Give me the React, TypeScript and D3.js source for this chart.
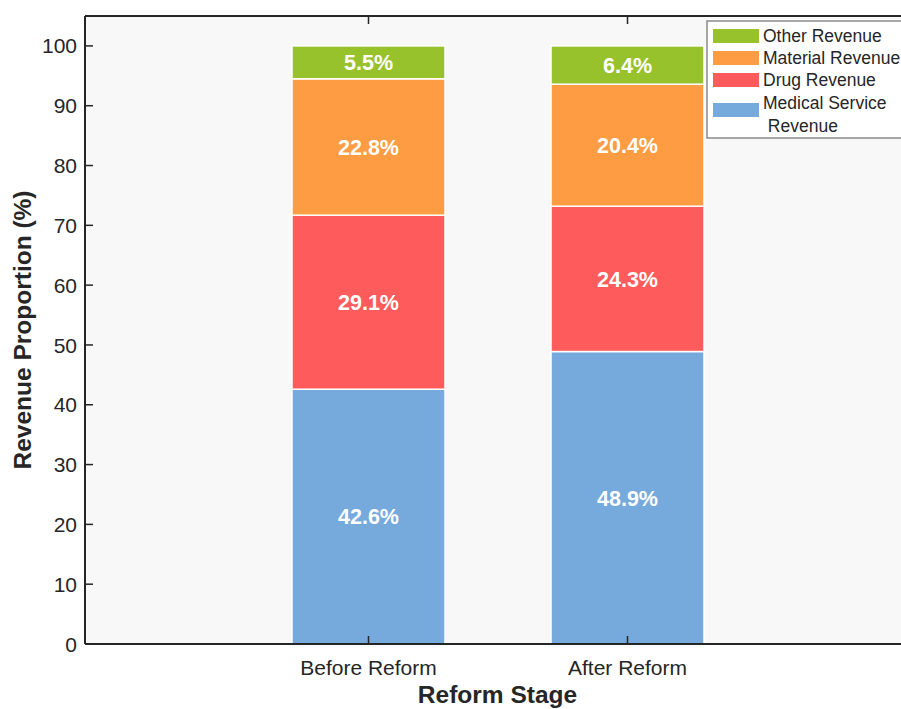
import React from "react";
import * as d3 from "d3";

const stages = ["Before Reform", "After Reform"];
const seriesNames = ["Medical Service Revenue", "Drug Revenue", "Material Revenue", "Other Revenue"];
const medicalService = [42.6, 48.9];
const drug = [29.1, 24.3];
const material = [22.8, 20.4];
const other = [5.5, 6.4];
const colors = ["#76aadd", "#fe5c5c", "#fd9c42", "#98c22c"];
const yTicks = [0, 10, 20, 30, 40, 50, 60, 70, 80, 90, 100];
const legendLabels = [["Other Revenue"], ["Material Revenue"], ["Drug Revenue"], ["Medical Service", " Revenue"]];

export default function App() {
  const W = 901, H = 709;
  const left = 85, right = 910, top = 16, bottom = 644;
  const catX = d3.scaleLinear().domain([1, 2]).range([368.5, 627.5]);
  const y = d3.scaleLinear().domain([0, 105]).range([bottom, top]);
  const bw = 153;
  const rows = stages.map((s, i) => ({
    stage: s,
    "Medical Service Revenue": medicalService[i],
    "Drug Revenue": drug[i],
    "Material Revenue": material[i],
    "Other Revenue": other[i],
  }));
  const stacked = d3.stack<any>().keys(seriesNames)(rows);
  const font = "'Liberation Sans', Arial, sans-serif";
  return (
    <svg width={W} height={H} style={{ position: "absolute", left: 0, top: 0, background: "#fff" }} fontFamily={font}>
      <rect x={left} y={top} width={right - left} height={bottom - top} fill="#f8f8f8" />
      {stacked.map((layer, li) => (
        <g key={li}>
          {layer.map((d, i) => {
            const cx = catX(i + 1);
            const y0 = y(d[0]), y1 = y(d[1]);
            return (
              <g key={i}>
                <rect x={cx - bw / 2} y={y1} width={bw} height={y0 - y1} fill={colors[li]} stroke="#ffffff" strokeWidth={1.5} />
                <text x={cx} y={(y0 + y1) / 2} dy="0.36em" textAnchor="middle" fill="#fff" fontWeight="bold" fontSize={21.5}>
                  {(d[1] - d[0]).toFixed(1)}%
                </text>
              </g>
            );
          })}
        </g>
      ))}
      <line x1={left} x2={right} y1={bottom} y2={bottom} stroke="#262626" strokeWidth={2} />
      <line x1={left} x2={right} y1={top} y2={top} stroke="#262626" strokeWidth={2} />
      <line x1={left} x2={left} y1={top} y2={bottom} stroke="#262626" strokeWidth={2} />
      {yTicks.map((t) => (
        <g key={t}>
          <line x1={left} x2={left + 8} y1={y(t)} y2={y(t)} stroke="#262626" strokeWidth={1.5} />
          <text x={left - 8} y={y(t)} dy="0.36em" textAnchor="end" fontSize={21} fill="#262626">{t}</text>
        </g>
      ))}
      {stages.map((s, i) => (
        <g key={s}>
          <line x1={catX(i + 1)} x2={catX(i + 1)} y1={bottom} y2={bottom - 8} stroke="#262626" strokeWidth={1.5} />
          <line x1={catX(i + 1)} x2={catX(i + 1)} y1={top} y2={top + 8} stroke="#262626" strokeWidth={1.5} />
          <text x={catX(i + 1)} y={675} textAnchor="middle" fontSize={21} fill="#262626">{s}</text>
        </g>
      ))}
      <text x={(left + right) / 2} y={703} textAnchor="middle" fontSize={24.5} fontWeight="bold" fill="#262626">Reform Stage</text>
      <text transform={`translate(31,${(top + bottom) / 2}) rotate(-90)`} textAnchor="middle" fontSize={24.5} fontWeight="bold" fill="#262626">Revenue Proportion (%)</text>
      <g>
        <rect x={707} y={21} width={200} height={117} fill="#ffffff" stroke="#8a8a8a" strokeWidth={1.5} />
        {legendLabels.map((lines, k) => {
          const cy = [36, 58, 80, 110][k];
          const ci = 3 - k;
          return (
            <g key={k}>
              <rect x={713} y={cy - 7} width={46} height={14} fill={colors[ci]} />
              {lines.length === 1 ? (
                <text x={763} y={cy} dy="0.36em" fontSize={17.5} fill="#262626">{lines[0]}</text>
              ) : (
                <>
                  <text x={763} y={cy - 7} dy="0.36em" fontSize={17.5} fill="#262626">{lines[0]}</text>
                  <text x={763} y={cy + 16} dy="0.36em" fontSize={17.5} fill="#262626" style={{ whiteSpace: "pre" }}>{lines[1]}</text>
                </>
              )}
            </g>
          );
        })}
      </g>
    </svg>
  );
}
